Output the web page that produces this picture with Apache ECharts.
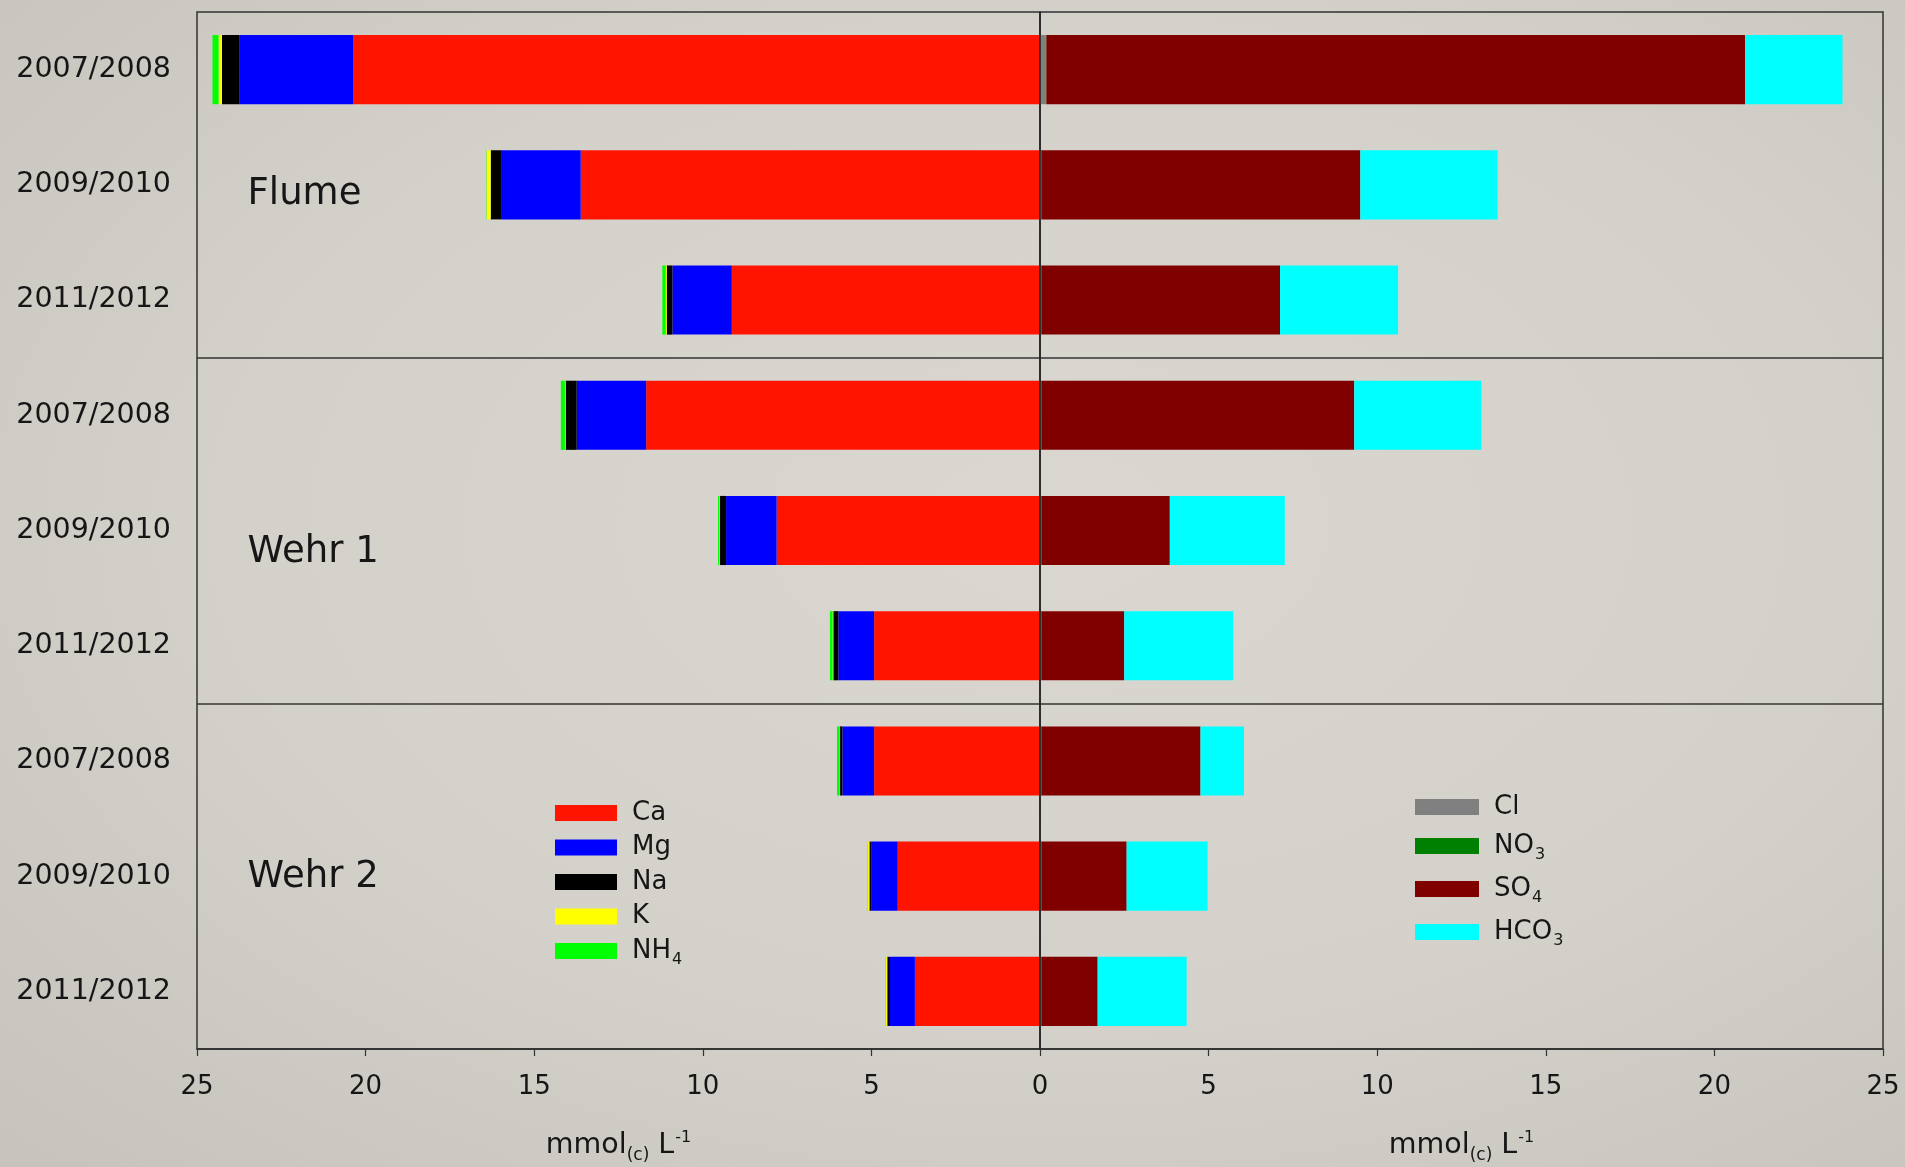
<!DOCTYPE html>
<html>
<head>
<meta charset="utf-8">
<title>Ionenbilanz Flume / Wehr 1 / Wehr 2</title>
<script src="https://cdn.jsdelivr.net/npm/echarts@6/dist/echarts.min.js"></script>
<style>
  html, body { margin: 0; padding: 0; width: 100%; height: 100%; }
  body {
    background: radial-gradient(ellipse at 55% 45%, #dad7d1 0%, #d4d1cb 55%, #c6c3bd 100%);
  }
  #chart { width: 1905px; height: 1167px; }
</style>
</head>
<body>
<div id="chart"></div>
<script>
// Sampling periods per site, top to bottom
const periods = ['2007/2008', '2009/2010', '2011/2012',
                 '2007/2008', '2009/2010', '2011/2012',
                 '2007/2008', '2009/2010', '2011/2012'];
const sites = ['Flume', 'Wehr 1', 'Wehr 2'];

// Cations, mmol(c)/L (drawn to the left)
const ca  = [20.36, 13.62, 9.14, 11.68, 7.81, 4.92, 4.92, 4.22, 3.71];
const mg  = [3.39, 2.34, 1.76, 2.06, 1.50, 1.06, 0.94, 0.77, 0.74];
const na  = [0.51, 0.33, 0.17, 0.33, 0.18, 0.15, 0.07, 0.07, 0.08];
const k   = [0.10, 0.12, 0.03, 0.02, 0.02, 0.02, 0.01, 0.05, 0.05];
const nh4 = [0.18, 0.01, 0.10, 0.12, 0.04, 0.08, 0.08, 0.01, 0.01];

// Anions, mmol(c)/L (drawn to the right)
const cl   = [0.17, 0.03, 0.02, 0.02, 0.02, 0.02, 0.02, 0.02, 0.02];
const no3  = [0.02, 0.03, 0.02, 0.02, 0.02, 0.02, 0.02, 0.02, 0.02];
const so4  = [20.72, 9.44, 7.08, 9.28, 3.81, 2.46, 4.72, 2.53, 1.67];
const hco3 = [2.89, 4.07, 3.50, 3.77, 3.41, 3.23, 1.29, 2.40, 2.64];

// Axis ticks
const xTicks = [-25, -20, -15, -10, -5, 0, 5, 10, 15, 20, 25];

const FONT = '"DejaVu Sans", "Liberation Sans", Arial, sans-serif';
const INK = '#161616';

const cations = [
  { name: 'Ca',  values: ca,  color: '#ff1400' },
  { name: 'Mg',  values: mg,  color: '#0000ff' },
  { name: 'Na',  values: na,  color: '#000000' },
  { name: 'K',   values: k,   color: '#ffff00' },
  { name: 'NH4', values: nh4, color: '#00ff00' }
];
const anions = [
  { name: 'Cl',   values: cl,   color: '#808080' },
  { name: 'NO3',  values: no3,  color: '#008000' },
  { name: 'SO4',  values: so4,  color: '#800000' },
  { name: 'HCO3', values: hco3, color: '#00ffff' }
];

// Chemical formulas with subscript digits
function formula(name) {
  return name.replace(/(\d+)/g, '{sub|$1}');
}

const series = [];
cations.forEach(function (c) {
  series.push({
    name: c.name,
    type: 'bar',
    stack: 'ions',
    barWidth: '60%',
    itemStyle: { color: c.color },
    emphasis: { disabled: true },
    data: c.values.map(function (v) { return -v; })
  });
});
anions.forEach(function (a) {
  series.push({
    name: a.name,
    type: 'bar',
    stack: 'ions',
    barWidth: '60%',
    itemStyle: { color: a.color },
    emphasis: { disabled: true },
    data: a.values.slice()
  });
});
// Zero line between cations and anions
series[0].markLine = {
  silent: true,
  symbol: ['none', 'none'],
  label: { show: false },
  lineStyle: { color: '#1e1e1e', width: 1.5, type: 'solid' },
  data: [{ xAxis: 0 }],
  z: 10
};

const legendText = {
  fontFamily: FONT,
  fontSize: 26,
  color: INK,
  padding: [0, 0, 0, 10],
  rich: {
    sub: { fontFamily: FONT, fontSize: 16, color: INK, padding: [18, 0, 0, 1] }
  }
};

const chart = echarts.init(document.getElementById('chart'), null, { renderer: 'canvas' });

chart.setOption({
  backgroundColor: 'transparent',
  animation: false,
  grid: {
    left: 197, right: 22, top: 12, bottom: 118,
    show: true,
    borderColor: '#333',
    borderWidth: 1.5,
    backgroundColor: 'transparent'
  },
  xAxis: {
    type: 'value',
    min: xTicks[0],
    max: xTicks[xTicks.length - 1],
    interval: 5,
    axisLine: { show: true, lineStyle: { color: '#333', width: 1.5 } },
    axisTick: { show: true, inside: false, length: 7, lineStyle: { color: '#333', width: 1.2 } },
    splitLine: { show: false },
    axisLabel: {
      fontFamily: FONT,
      fontSize: 26,
      color: INK,
      margin: 25,
      formatter: function (v) { return String(Math.abs(v)); }
    }
  },
  yAxis: {
    type: 'category',
    inverse: true,
    data: periods,
    axisLine: { show: true, lineStyle: { color: '#333', width: 1.5 } },
    axisTick: { show: true, alignWithLabel: true, inside: false, length: 8, lineStyle: { color: '#333', width: 1.2 } },
    axisLabel: { fontFamily: FONT, fontSize: 28.5, color: INK, margin: 26 },
    splitLine: {
      show: true,
      interval: function (index) { return index === 3 || index === 6; },
      lineStyle: { color: '#333', width: 1.5 }
    }
  },
  legend: [
    {
      data: cations.map(function (c) { return c.name; }),
      orient: 'vertical',
      left: 550,
      top: 795,
      itemWidth: 62,
      itemHeight: 16,
      itemGap: 8.5,
      icon: 'rect',
      selectedMode: false,
      formatter: formula,
      textStyle: legendText
    },
    {
      data: anions.map(function (a) { return a.name; }),
      orient: 'vertical',
      left: 1410,
      top: 789,
      itemWidth: 64,
      itemHeight: 16,
      itemGap: 13,
      icon: 'rect',
      selectedMode: false,
      formatter: formula,
      textStyle: legendText
    }
  ],
  series: series
});

// Site names and axis titles, positioned through the axes
function yAt(pos) {
  const y0 = chart.convertToPixel({ yAxisIndex: 0 }, 0);
  const y1 = chart.convertToPixel({ yAxisIndex: 0 }, 1);
  return y0 + (y1 - y0) * pos;
}
function xAt(v) {
  return chart.convertToPixel({ xAxisIndex: 0 }, v);
}
const siteRows = [1.08, 4.19, 7.01];
const gridBottom = chart.getHeight() - 118;

const graphics = sites.map(function (s, i) {
  return {
    type: 'text',
    x: xAt(-23.5),
    y: yAt(siteRows[i]),
    silent: true,
    style: {
      text: s,
      fontFamily: FONT,
      fontSize: 37,
      fill: INK,
      align: 'left',
      verticalAlign: 'middle'
    }
  };
});

const unitRich = {
  sub: { fontFamily: FONT, fontSize: 17, fill: INK, padding: [20, 0, 0, 0] },
  sup: { fontFamily: FONT, fontSize: 16, fill: INK, padding: [0, 0, 16, 1] }
};
[-12.5, 12.5].forEach(function (v) {
  graphics.push({
    type: 'text',
    x: xAt(v),
    y: gridBottom + 97,
    silent: true,
    style: {
      text: 'mmol{sub|(c)} L{sup|-1}',
      fontFamily: FONT,
      fontSize: 28.5,
      fill: INK,
      align: 'center',
      verticalAlign: 'middle',
      rich: unitRich
    }
  });
});

chart.setOption({ graphic: graphics });
</script>
</body>
</html>
